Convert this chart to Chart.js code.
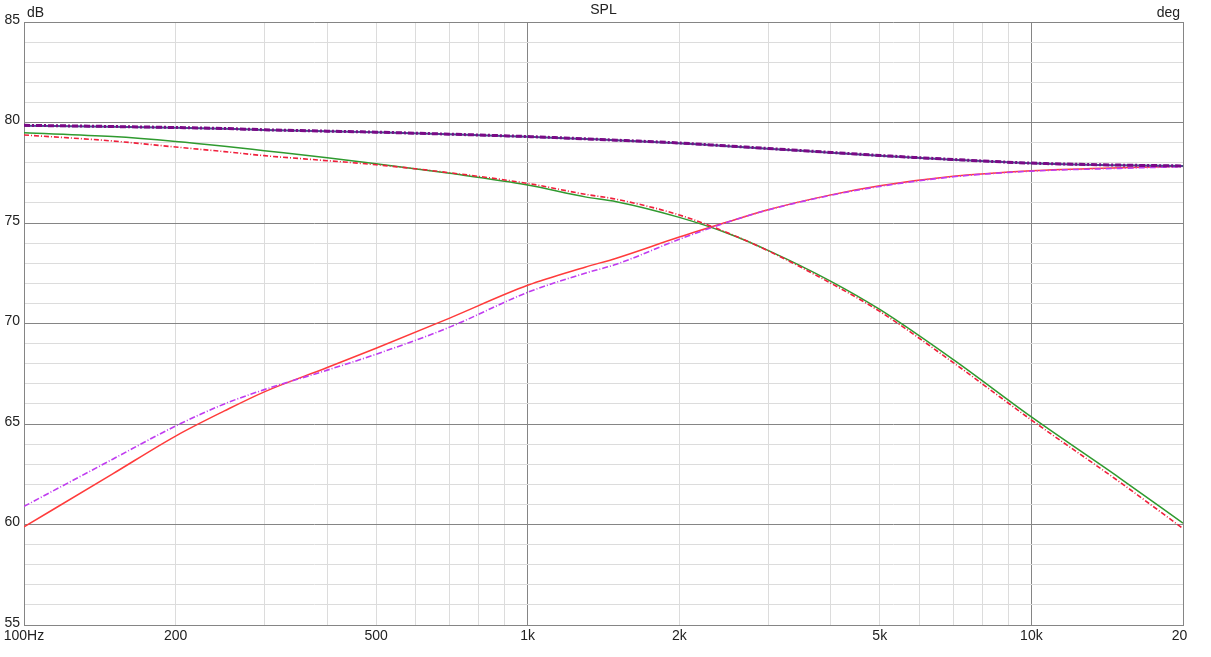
<!DOCTYPE html>
<html>
<head>
<meta charset="utf-8">
<script src="https://cdn.jsdelivr.net/npm/chart.js@4.4.1/dist/chart.umd.min.js"></script>
<style>
  body { margin: 0; background: #fff; }
  #wrap { width: 1187px; height: 657px; }
</style>
</head>
<body>
<div id="wrap"><canvas id="spl" width="1187" height="657"></canvas></div>
<script>
// frequencies (Hz) the curves were read at
const freqs = [100, 150, 200, 250, 300, 400, 500, 700, 1000, 1300, 1500, 2000, 2500, 3000, 4000, 5000, 7000, 10000, 15000, 20000];

// SPL in dB
const sumSolid   = [79.84, 79.79, 79.74, 79.69, 79.63, 79.56, 79.52, 79.42, 79.29, 79.18, 79.12, 78.97, 78.82, 78.70, 78.50, 78.35, 78.15, 77.97, 77.87, 77.83];
const sumDashed  = [79.86, 79.80, 79.75, 79.70, 79.64, 79.57, 79.52, 79.42, 79.30, 79.19, 79.12, 78.98, 78.83, 78.71, 78.51, 78.36, 78.16, 77.98, 77.88, 77.84];
const lowGreen   = [79.49, 79.30, 79.06, 78.82, 78.60, 78.25, 77.95, 77.47, 76.89, 76.30, 76.06, 75.28, 74.48, 73.64, 72.10, 70.70, 68.20, 65.35, 62.30, 60.07];
const lowRedDash = [79.38, 79.08, 78.78, 78.55, 78.35, 78.10, 77.90, 77.50, 76.97, 76.43, 76.18, 75.40, 74.50, 73.62, 72.00, 70.60, 68.05, 65.20, 62.10, 59.80];
const highRed    = [59.88, 62.52, 64.40, 65.65, 66.60, 67.81, 68.77, 70.27, 71.90, 72.80, 73.25, 74.30, 75.06, 75.66, 76.40, 76.85, 77.32, 77.60, 77.75, 77.82];
const highViolet = [60.90, 63.25, 64.90, 66.00, 66.71, 67.68, 68.47, 69.82, 71.55, 72.50, 72.95, 74.19, 75.05, 75.65, 76.38, 76.82, 77.30, 77.58, 77.72, 77.80];

// axis ticks
const xTicks = [100, 200, 300, 400, 500, 600, 700, 800, 900, 1000, 2000, 3000, 4000, 5000, 6000, 7000, 8000, 9000, 10000, 20000];
const xMajor = [100, 1000, 10000, 20000];
const xLabels = { 100: "100Hz", 200: "200", 500: "500", 1000: "1k", 2000: "2k", 5000: "5k", 10000: "10k", 20000: "20k" };

const pts = arr => arr.map((v, i) => ({ x: freqs[i], y: v }));

const line = (data, color, width, dash, order) => ({
    data: pts(data),
    borderColor: color,
    borderWidth: width,
    borderDash: dash,
    pointRadius: 0,
    fill: false,
    cubicInterpolationMode: "monotone",
    order: order
});

const font = { family: "'Liberation Sans', Arial, sans-serif", size: 14 };
const txt = "#222";
const majorGrid = "#858585";
const minorGrid = "#dcdcdc";

// header captions over the plot
const captions = {
    id: "captions",
    afterDraw(chart) {
        const c = chart.ctx, a = chart.chartArea;
        c.save();
        c.fillStyle = txt;
        c.font = "14px 'Liberation Sans', Arial, sans-serif";
        c.textBaseline = "middle";
        c.textAlign = "left";
        c.fillText("dB", a.left + 3, 13);
        c.textAlign = "center";
        c.fillText("SPL", (a.left + a.right) / 2, 10);
        c.textAlign = "right";
        c.fillText("deg", a.right - 3, 13);
        c.restore();
    }
};

new Chart(document.getElementById("spl"), {
    type: "line",
    data: {
        datasets: [
            line(sumDashed, "#7a0a86", 3, [6, 2, 2, 2], 1),
            line(sumSolid, "#4a4a8c", 2, [], 2),
            line(highViolet, "#c03cf0", 1.6, [6, 2, 1, 2], 3),
            line(lowRedDash, "#f0203c", 1.6, [5, 2, 1, 2], 4),
            line(highRed, "#ff3b3b", 1.5, [], 5),
            line(lowGreen, "#2f9a2f", 1.5, [], 6)
        ]
    },
    options: {
        responsive: false,
        animation: false,
        layout: { padding: { top: 22, right: 4, left: 0, bottom: 0 } },
        plugins: { legend: { display: false }, tooltip: { enabled: false } },
        scales: {
            x: {
                type: "logarithmic",
                min: 100,
                max: 20000,
                afterBuildTicks: s => { s.ticks = xTicks.map(v => ({ value: v })); },
                afterFit: s => { s.height = 32; s.paddingLeft = 0; s.paddingRight = 0; },
                ticks: {
                    autoSkip: false,
                    maxRotation: 0,
                    padding: 3,
                    color: txt,
                    font: font,
                    callback: v => xLabels[v] || ""
                },
                grid: {
                    drawTicks: false,
                    color: ctx => (ctx.tick && xMajor.includes(ctx.tick.value)) ? majorGrid : minorGrid
                },
                border: { color: majorGrid }
            },
            y: {
                min: 55,
                max: 85,
                afterFit: s => { s.width = 24; s.paddingTop = 0; s.paddingBottom = 0; },
                ticks: {
                    stepSize: 1,
                    autoSkip: false,
                    padding: 4,
                    labelOffset: -2,
                    color: txt,
                    font: font,
                    callback: v => (v % 5 === 0 ? v : "")
                },
                grid: {
                    drawTicks: false,
                    color: ctx => (ctx.tick && ctx.tick.value % 5 === 0) ? majorGrid : minorGrid
                },
                border: { color: majorGrid }
            }
        }
    },
    plugins: [captions]
});
</script>
</body>
</html>
